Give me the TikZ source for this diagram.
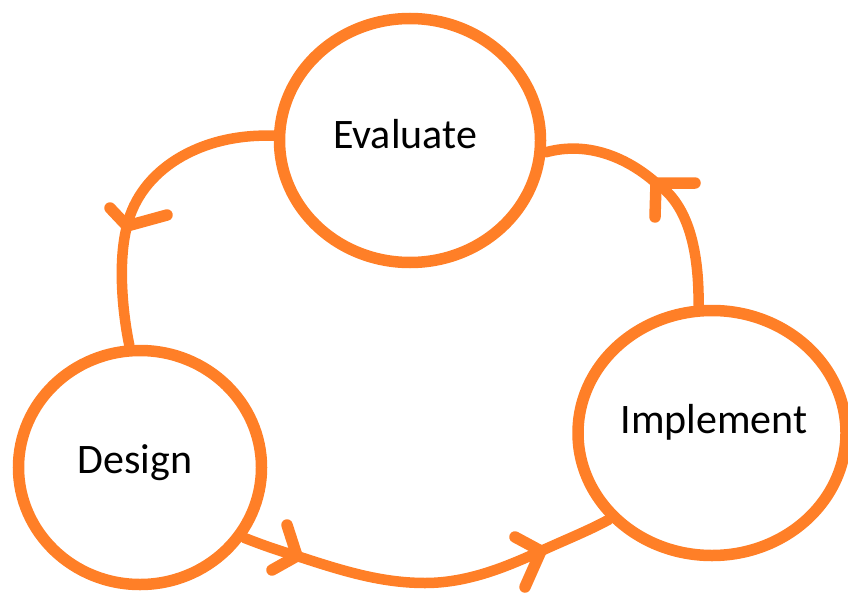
\documentclass[tikz,border=0pt]{standalone}
\usepackage{fontspec}
\setmainfont{Carlito}
\usetikzlibrary{shapes.geometric}
\definecolor{paintorange}{RGB}{255,127,39}
\begin{document}
\begin{tikzpicture}[x=1pt,y=-1pt,
  stage/.style={ellipse, draw=paintorange, line width=11.5pt, inner sep=0pt},
  stagetext/.style={anchor=base, inner sep=0pt, font=\fontsize{42}{50}\selectfont},
  flow/.style={draw=paintorange, line width=10.5pt, line cap=round, line join=round},
  barb/.style={flow, line width=11.5pt}]
\useasboundingbox (0,0) rectangle (848,599);

% stages of the cycle
\node[stage, minimum width=261pt, minimum height=244pt] (eval) at (410,140.5) {};
\node[stage, minimum width=243pt, minimum height=234pt] (design) at (140,467.5) {};
\node[stage, minimum width=268pt, minimum height=245pt] (impl) at (712,433) {};

\node[stagetext] (evaltext) at (405,148) {Evaluate};
\node[stagetext] (designtext) at (135,473) {Design};
\node[stagetext] (impltext) at (714,433) {Implement};

% arrow tips along the connectors
\coordinate (tipA) at (127,226);
\coordinate (tipB) at (297,556);
\coordinate (tipC) at (541,551);
\coordinate (tipD) at (656,183);

% Evaluate -> Design
\draw[flow] (eval.178) .. controls (200,133) and (140,170) .. (tipA)
  .. controls (118,260) and (122,310) .. (design.95);
% Design -> Implement
\draw[flow] (design.-34) .. controls (265,546) and (280,551) .. (tipB)
  .. controls (340,570) and (380,583) .. (425,583)
  .. controls (470,583) and (510,565) .. (tipC)
  .. controls (565,540) and (590,530) .. (impl.220);
% Implement -> Evaluate
\draw[flow] (impl.96) .. controls (699,255) and (690,205) .. (tipD)
  .. controls (630,160) and (590,140) .. (eval.-5);

% hand-drawn open arrowheads
\draw[barb] (tipA) ++(-17,-18) -- (tipA) -- ++(40,-11);
\draw[barb] (tipB) ++(-10,-31) -- (tipB) -- ++(-25,14);
\draw[barb] (tipC) ++(-26,-14) -- (tipC) -- ++(-16,36);
\draw[barb] (tipD) ++(39,0) -- (tipD) -- ++(-1,34);
\end{tikzpicture}
\end{document}
